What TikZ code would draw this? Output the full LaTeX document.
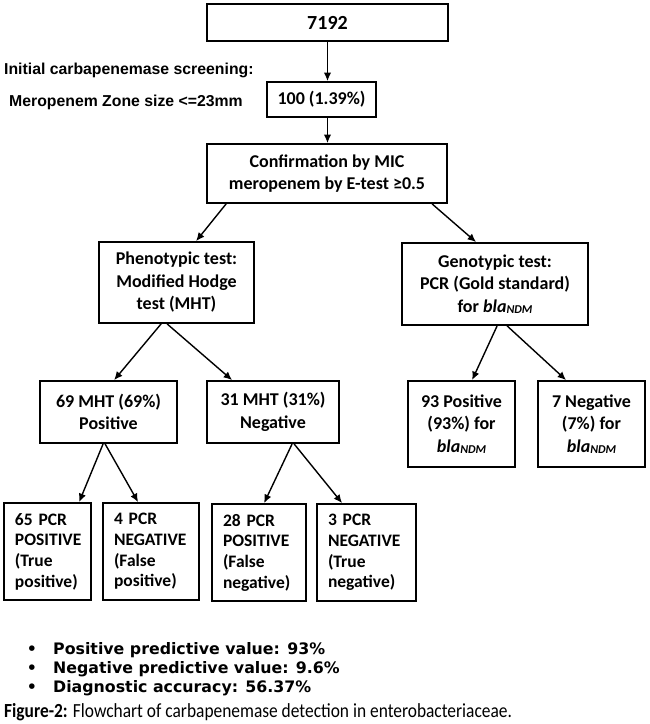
\documentclass[tikz,border=0pt]{standalone}
\usepackage{fontspec}
\setmainfont{Carlito}
\newfontfamily\labfont{Liberation Sans}
\newfontfamily\dvsfont{DejaVu Sans}
\newfontfamily\capfont[FakeStretch=0.87]{Carlito}
\usetikzlibrary{arrows.meta}
\newcommand{\blandm}{\textit{bla}\raisebox{-1pt}{\fontsize{12}{12}\selectfont\itshape NDM}}
\begin{document}
\begin{tikzpicture}[x=1pt,y=-1pt,
  box/.style={draw, line width=1.8pt, inner sep=0pt, align=center, font=\bfseries\fontsize{18}{22.5}\selectfont},
  leaf/.style={draw, line width=1.8pt, inner xsep=11pt, inner ysep=0pt, align=left, minimum height=97pt, font=\bfseries\fontsize{17.5}{20.7}\selectfont},
  arr/.style={line width=1.4pt, -{Latex[length=8.5pt,width=7.5pt]}},
  side/.style={anchor=base west, inner sep=0pt, font=\labfont\bfseries\fontsize{15.8}{18}\selectfont},
  bul/.style={anchor=base, inner sep=0pt, font=\dvsfont\bfseries\fontsize{15.8}{19}\selectfont},
  bultext/.style={anchor=base west, inner sep=0pt, font=\dvsfont\bfseries\fontsize{15.8}{19}\selectfont}]
\useasboundingbox (0,0) rectangle (650,724);

% boxes
\node[box, minimum width=241pt, minimum height=37pt, font=\bfseries\fontsize{20}{24}\selectfont] (n7192) at (327.5,22.5) {7192};
\node[box, minimum width=109pt, minimum height=35pt] (n100) at (321.5,99.5) {100 (1.39\%)};
\node[box, minimum width=240pt, minimum height=59pt] (conf) at (327,173.5) {Confirmation by MIC\\meropenem by E-test ≥0.5};
\node[box, minimum width=155pt, minimum height=81pt] (pheno) at (176.5,282.5) {Phenotypic test:\\Modified Hodge\\test (MHT)};
\node[box, minimum width=186pt, minimum height=82pt] (geno) at (495,284) {Genotypic test:\\PCR (Gold standard)\\for \blandm};
\node[box, minimum width=137pt, minimum height=62pt] (p69) at (108.5,412) {69 MHT (69\%)\\Positive};
\node[box, minimum width=132pt, minimum height=62pt] (n31) at (273,412) {31 MHT (31\%)\\Negative};
\node[box, minimum width=107pt, minimum height=86pt] (p93) at (461.5,424) {93 Positive\\(93\%) for\\\blandm};
\node[box, minimum width=107pt, minimum height=86pt] (n7) at (591.5,424) {7 Negative\\(7\%) for\\\blandm};
\node[leaf, text width=65pt] (b65) at (47.5,551.5) {65 PCR\\POSITIVE\\(True\\positive)};
\node[leaf, text width=74pt] (b4) at (151,551.5) {4 PCR\\NEGATIVE\\(False\\positive)};
\node[leaf, text width=72pt] (b28) at (259,552.5) {28 PCR\\POSITIVE\\(False\\negative)};
\node[leaf, text width=77pt] (b3) at (366.5,552.5) {3 PCR\\NEGATIVE\\(True\\negative)};

% side labels
\node[side] (lab1) at (4,74.5) {Initial carbapenemase screening:};
\node[side] (lab2) at (9,106.5) {Meropenem Zone size <=23mm};

% arrows
\draw[arr] (n7192.south) -- (n7192.south |- n100.north);
\draw[arr] (n7192.south |- n100.south) -- (n7192.south |- conf.north);
\draw[arr] ([xshift=20pt]conf.south west) -- ([xshift=98pt]pheno.north west);
\draw[arr] ([xshift=226pt]conf.south west) -- ([xshift=75pt]geno.north west);
\draw[arr] ([xshift=63pt]pheno.south west) -- ([xshift=75pt]p69.north west);
\draw[arr] ([xshift=69pt]pheno.south west) -- ([xshift=26pt]n31.north west);
\draw[arr] ([xshift=96pt]geno.south west) -- ([xshift=65pt]p93.north west);
\draw[arr] ([xshift=106pt]geno.south west) -- ([xshift=29pt]n7.north west);
\draw[arr] ([xshift=64pt]p69.south west) -- ([xshift=76pt]b65.north west);
\draw[arr] ([xshift=66pt]p69.south west) -- ([xshift=36pt]b4.north west);
\draw[arr] ([xshift=86pt]n31.south west) -- ([xshift=53pt]b28.north west);
\draw[arr] ([xshift=88pt]n31.south west) -- ([xshift=26pt]b3.north west);

% bullets
\node[bul] (d1) at (32,654) {•};
\node[bul] (d2) at (32,673) {•};
\node[bul] (d3) at (32,692) {•};
\node[bultext] (t1) at (53,654) {Positive predictive value: 93\%};
\node[bultext] (t2) at (53,673) {Negative predictive value: 9.6\%};
\node[bultext] (t3) at (53,692) {Diagnostic accuracy: 56.37\%};

% caption
\node[anchor=base west, inner sep=0pt, font=\capfont\fontsize{20}{24}\selectfont] (cap) at (4,717) {\textbf{Figure-2:} Flowchart of carbapenemase detection in enterobacteriaceae.};
\end{tikzpicture}
\end{document}
